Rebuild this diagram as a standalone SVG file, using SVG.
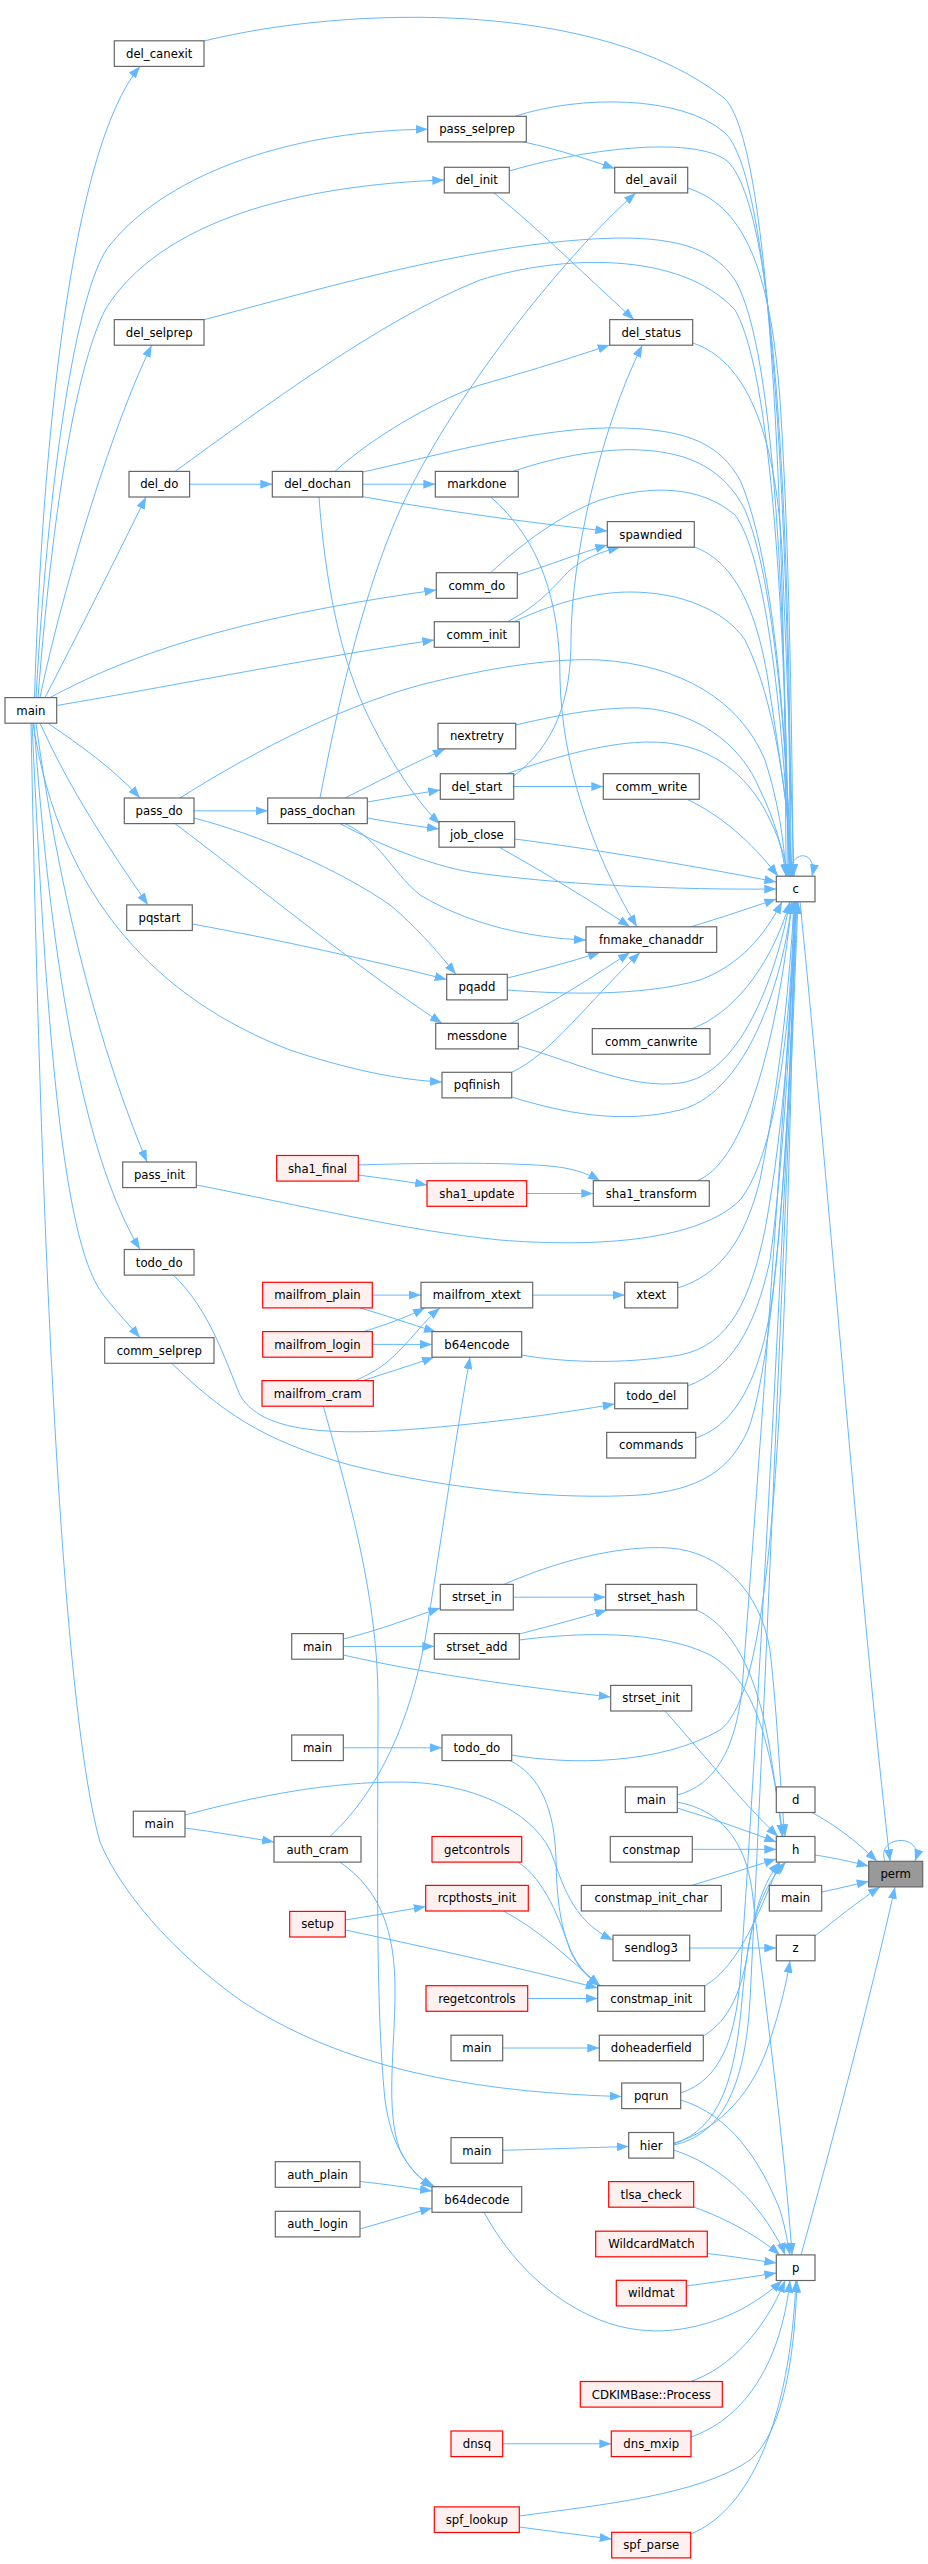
<svg xmlns="http://www.w3.org/2000/svg" width="928" height="2564" viewBox="0 0 928 2564">
<defs>
<style>
.n rect{fill:#ffffff;stroke:#666666;stroke-width:1.2}
.r rect{fill:#fff0f0;stroke:#ff0000;stroke-width:1.2}
.g rect{fill:#999999;stroke:#666666;stroke-width:1.2}
text{font-family:"DejaVu Sans","Liberation Sans",sans-serif;font-size:11.7px;text-anchor:middle;fill:#000000}
#edges path{fill:none;stroke:#63b8ff;stroke-width:1;marker-end:url(#a)}
</style>
<marker id="a" viewBox="0 0 12 9" refX="12" refY="4.5" markerWidth="12" markerHeight="9" markerUnits="userSpaceOnUse" orient="auto"><path d="M0,0 L12,4.5 L0,9 z" fill="#63b8ff"/></marker>
</defs>
<rect x="0" y="0" width="928" height="2564" fill="#ffffff"/>
<g id="edges">
<path d="M34.5,697.6 C42,450 70,150 140,66.4"/>
<path d="M36,697.6 C50,450 80,280 110,245 C170,170 300,130 427.7,129.3"/>
<path d="M38,697.6 C55,480 80,360 105,310 C160,220 300,185 444.3,180"/>
<path d="M40,697.6 C60,600 110,430 151.7,345.2"/>
<path d="M45,697.6 C80,630 115,560 146,497"/>
<path d="M50,697.6 C120,660 220,620 436.3,590"/>
<path d="M56.7,705.5 C150,690 300,660 434.3,640"/>
<path d="M48,723.3 C80,745 115,770 140,798"/>
<path d="M40,723.3 C70,790 110,850 148,904.9"/>
<path d="M33,723.3 C60,900 160,1000 290,1050 C350,1070 400,1080 442,1082"/>
<path d="M36,723.3 C60,900 100,1050 147,1162"/>
<path d="M34,723.3 C50,950 80,1150 140,1249.5"/>
<path d="M32,723.3 C45,1000 60,1230 100,1290 C110,1305 125,1320 140,1337.7"/>
<path d="M31,723.3 C40,1200 60,1700 100,1842 C120,1890 170,1950 240,2000 C330,2060 450,2092 621.7,2096.5"/>
<path d="M204,41 C350,5 600,0 724,98 C770,140 785,500 786,876.2"/>
<path d="M515,116.3 C580,95 680,95 724,132 C770,170 790,500 790,876.2"/>
<path d="M524,142 C560,150 590,160 614.7,168.5"/>
<path d="M509.3,171 C580,150 690,135 726,160 C775,200 790,500 791,876.2"/>
<path d="M494,192.9 C540,230 590,280 634,319.6"/>
<path d="M687.7,188 C740,205 770,260 780,400 C788,520 792,700 793,876.2"/>
<path d="M204,319.6 C300,295 480,240 620,238 C680,238 715,250 735,280 C770,340 785,550 788,876.2"/>
<path d="M175,471.4 C260,410 380,320 480,280 C560,255 680,250 735,310 C770,370 785,600 789,876.2"/>
<path d="M692.7,343 C745,360 775,430 782,550 C788,700 792,800 794,876.2"/>
<path d="M335,471.4 C380,430 450,395 480,385 C540,368 580,355 609.7,345"/>
<path d="M320,798 C335,720 360,600 400,510 C450,400 560,260 635.7,192.9"/>
<path d="M362.7,472 C420,460 540,425 624,428 C690,430 720,445 740,480 C775,560 788,750 790,876.2"/>
<path d="M189.6,484.2 L272.3,484.2"/>
<path d="M362.7,484.2 L435.3,484.2"/>
<path d="M513,471.4 C560,455 610,448 640,450 C690,452 725,470 745,510 C775,580 788,760 791,876.2"/>
<path d="M362.7,496.7 C420,507 520,522 607.3,531"/>
<path d="M490.7,497 C540,540 560,600 560,680 C562,760 590,850 637,926.8"/>
<path d="M694.3,547 C730,560 755,600 768,680 C780,760 790,820 792,876.2"/>
<path d="M490.7,572.7 C520,545 560,515 600,500 C650,485 700,485 735,515 C770,560 786,760 790,876.2"/>
<path d="M517.3,575 C550,565 580,553 607.3,545"/>
<path d="M507.3,621.7 C540,605 555,585 570,570 C585,558 600,552 620,547.2"/>
<path d="M514,621.7 C560,600 600,592 630,592 C680,592 725,610 745,640 C775,700 788,800 792,876.2"/>
<path d="M515.7,725 C570,712 610,707 640,708 C690,710 740,740 760,790 C775,820 783,850 786,876.2"/>
<path d="M507,773.7 C560,755 610,742 650,742 C700,742 740,765 765,810 C778,835 785,855 788,876.2"/>
<path d="M513.7,786.5 L603.3,786.5"/>
<path d="M513.7,776 C555,745 571,700 571,640 C571,560 600,430 642.3,345.2"/>
<path d="M687,799.3 C720,815 750,840 778,876.2"/>
<path d="M514.7,839 C600,850 700,867 776.3,882"/>
<path d="M499,847.2 C540,870 590,900 630,926.8"/>
<path d="M367.3,818 C390,822 415,826 439,829"/>
<path d="M367.3,802 C390,798 415,794 440.3,790"/>
<path d="M345,798 C375,783 410,765 445,749"/>
<path d="M194,810.8 L267.7,810.8"/>
<path d="M180,798 C240,760 330,710 420,685 C500,665 560,658 600,660 C680,665 740,700 765,760 C778,800 784,840 786,876.2"/>
<path d="M319,497 C325,580 340,660 370,720 C395,770 420,805 440,824"/>
<path d="M340,823.6 C380,845 430,865 470,872 C560,885 680,890 776.3,889"/>
<path d="M345,823.6 C380,840 390,870 420,895 C470,925 530,938 586,940"/>
<path d="M194,818 C260,835 340,870 390,905 C420,930 440,955 456,974.3"/>
<path d="M175,823.6 C250,880 360,970 442,1023.3"/>
<path d="M192.3,924 C280,940 370,960 446.7,979.5"/>
<path d="M690.7,926.8 C720,918 750,908 776.3,899"/>
<path d="M507.3,978 C540,970 570,962 600,952.4"/>
<path d="M507.3,990 C560,994 640,997 700,980 C740,965 765,935 782,901.8"/>
<path d="M510.7,1023.3 C550,1005 595,975 630,952.4"/>
<path d="M518.3,1046 C570,1060 630,1090 680,1083 C740,1075 775,980 790,901.8"/>
<path d="M511.7,1072.3 C550,1055 590,1000 640,952.4"/>
<path d="M511.7,1097 C560,1112 620,1125 680,1110 C740,1095 780,1000 792,901.8"/>
<path d="M692,1028.6 C730,1015 770,970 790,901.8"/>
<path d="M196.3,1185 C300,1205 400,1230 500,1240 C600,1248 700,1240 740,1200 C780,1150 792,1000 794,901.8"/>
<path d="M358.3,1175 C380,1178 405,1181 427,1185"/>
<path d="M358.3,1165 C420,1163 500,1162 550,1166 C570,1168 585,1172 600,1180.7"/>
<path d="M526.7,1193.5 L593.3,1193.5"/>
<path d="M697,1180.7 C740,1165 775,1060 792,901.8"/>
<path d="M173.3,1275.1 C210,1310 225,1360 240,1395 C265,1440 360,1435 460,1425 C530,1418 580,1410 614.7,1404"/>
<path d="M171.7,1363.3 C220,1410 260,1440 350,1465 C450,1490 560,1500 640,1495 C700,1490 730,1470 748,1430 C775,1360 792,1100 795,901.8"/>
<path d="M372.3,1295.1 L421,1295.1"/>
<path d="M360,1307.9 C385,1315 410,1324 436,1332"/>
<path d="M363.3,1331.6 C385,1325 405,1318 425,1307.9"/>
<path d="M372.3,1344.4 L432,1344.4"/>
<path d="M355,1380.6 C380,1370 390,1360 400,1350 C415,1335 425,1320 440,1307.9"/>
<path d="M363.3,1380.6 C385,1373 410,1366 434,1357.2"/>
<path d="M532.7,1295.1 L624.7,1295.1"/>
<path d="M677.7,1288 C720,1275 745,1240 760,1180 C780,1080 790,980 794,901.8"/>
<path d="M521.7,1355 C560,1362 620,1365 680,1355 C730,1345 750,1300 765,1230 C785,1120 792,1000 795,901.8"/>
<path d="M687.7,1386 C730,1370 755,1330 770,1260 C785,1150 792,1000 795,901.8"/>
<path d="M695.7,1438 C735,1425 760,1380 772,1300 C787,1180 793,1000 796,901.8"/>
<path d="M330,1836.5 C380,1790 410,1720 425,1640 C440,1550 455,1440 470,1357.2"/>
<path d="M340,1862.1 C380,1890 395,1930 395,1990 C395,2050 385,2110 400,2150 C410,2170 420,2180 435,2186.7"/>
<path d="M323.3,1406.2 C350,1500 378,1600 378,1700 C378,1850 375,2000 385,2100 C392,2150 410,2170 432,2188"/>
<path d="M343.3,1639 C380,1630 410,1618 440.3,1608"/>
<path d="M343.3,1646.4 L434.3,1646.4"/>
<path d="M343.3,1655 C400,1668 480,1682 610.7,1697"/>
<path d="M513.3,1597.2 L605.7,1597.2"/>
<path d="M504,1584.4 C560,1560 620,1545 670,1548 C720,1552 760,1590 770,1650 C778,1720 780,1790 785,1836.5"/>
<path d="M519.3,1634 C550,1626 580,1618 607,1610"/>
<path d="M519.3,1640 C580,1632 660,1630 710,1655 C755,1680 770,1740 783,1836.5"/>
<path d="M696.7,1610 C740,1630 760,1690 770,1750 C776,1790 780,1815 782,1836.5"/>
<path d="M665,1711 C700,1750 740,1800 778,1836.5"/>
<path d="M343.3,1747.8 L442,1747.8"/>
<path d="M511.7,1755 C570,1765 660,1765 720,1730 C775,1690 785,1400 795,901.8"/>
<path d="M510,1760.6 C540,1775 555,1810 556,1860 C557,1930 570,1965 600,1985.7"/>
<path d="M185,1828 C215,1832 245,1837 274,1842"/>
<path d="M185,1815 C260,1795 330,1782 400,1782 C470,1782 530,1810 550,1850 C562,1880 570,1920 613,1940"/>
<path d="M518,1862.1 C545,1880 560,1920 570,1950 C578,1968 588,1978 600,1985.7"/>
<path d="M503.3,1911 C540,1930 570,1960 600,1985.7"/>
<path d="M345.3,1920 C370,1916 400,1911 425.7,1906.5"/>
<path d="M345.3,1930 C430,1948 520,1968 597.7,1988"/>
<path d="M527.7,1998.5 L597.7,1998.5"/>
<path d="M502.7,2048 L599.3,2048"/>
<path d="M502.7,2150.3 C550,2149 590,2147.5 628.7,2146.5"/>
<path d="M360,2181.5 C385,2184 410,2188 432,2191"/>
<path d="M360,2229 C385,2222 410,2214 432,2208"/>
<path d="M502.7,2443.8 L611.3,2443.8"/>
<path d="M519.3,2527 C550,2531 580,2535 611.7,2539"/>
<path d="M519.3,2516 C600,2505 700,2495 750,2460 C785,2430 795,2350 797,2280.5"/>
<path d="M484,2212.3 C510,2260 550,2300 600,2320 C650,2340 700,2330 740,2310 C755,2302 770,2292 782,2280.5"/>
<path d="M689.7,1948 L776.3,1948"/>
<path d="M704.7,1986 C740,1965 760,1910 780,1862.1"/>
<path d="M703.3,2036 C730,2020 742,1990 748,1950 C754,1910 768,1880 786,1862.1"/>
<path d="M680.7,2093 C720,2080 735,2040 740,1980 C760,1700 790,1100 797,901.8"/>
<path d="M680.7,2100 C730,2115 760,2160 780,2210 C786,2230 788,2245 790,2254.9"/>
<path d="M673.7,2143 C720,2130 755,2090 770,2040 C780,2010 786,1985 790,1960.8"/>
<path d="M673.7,2144 C720,2128 735,2080 742,2000 C748,1930 760,1885 780,1862.1"/>
<path d="M673.7,2145 C720,2135 745,2090 750,2000 C765,1700 790,1100 798,901.8"/>
<path d="M673.7,2150 C720,2165 755,2200 775,2235 C780,2243 783,2249 785,2254.9"/>
<path d="M677.3,1795 C715,1785 735,1750 742,1690 C760,1450 785,1100 796,901.8"/>
<path d="M677.3,1808 C710,1818 745,1830 776.3,1842"/>
<path d="M677.3,1802 C720,1810 745,1840 752,1890 C765,2000 785,2150 792,2254.9"/>
<path d="M692.3,1849.3 L776.3,1849.3"/>
<path d="M691.7,1885.4 C720,1877 748,1868 776.3,1859"/>
<path d="M693.7,2207 C730,2220 760,2238 780,2254.9"/>
<path d="M707.3,2253.5 C730,2256 755,2260 776.3,2263"/>
<path d="M686.3,2286 C715,2282 745,2278 776.3,2273"/>
<path d="M690.7,2381.5 C730,2368 765,2330 785,2280.5"/>
<path d="M691,2437 C740,2420 780,2370 790,2280.5"/>
<path d="M690.7,2534 C750,2510 790,2420 796,2280.5"/>
<path d="M800,901.8 C830,1200 860,1600 890,1861.3"/>
<path d="M812,1812.5 C835,1825 855,1840 877,1861.3"/>
<path d="M815,1855 C835,1858 852,1862 868.7,1866"/>
<path d="M821.7,1892 C837,1889 852,1885 868.7,1881.5"/>
<path d="M815,1936 C835,1920 860,1900 880,1886.9"/>
<path d="M801,2254.9 C830,2150 870,2000 895,1886.9"/>
<path d="M790,876.2 C788,850 818,848 812,876.2"/>
<path d="M885,1861.3 C875,1835 925,1832 915,1861.3"/>
</g>
<g id="main_a" class="n"><rect x="5" y="697.6" width="51.7" height="25.6"/><text x="30.9" y="714.6">main</text></g>
<g id="del_canexit" class="n"><rect x="114.3" y="40.8" width="89.7" height="25.6"/><text x="159.2" y="57.8">del_canexit</text></g>
<g id="del_selprep" class="n"><rect x="114.3" y="319.6" width="89.7" height="25.6"/><text x="159.2" y="336.6">del_selprep</text></g>
<g id="del_do" class="n"><rect x="129" y="471.4" width="60.6" height="25.6"/><text x="159.3" y="488.4">del_do</text></g>
<g id="pass_do" class="n"><rect x="124.3" y="798" width="69.7" height="25.6"/><text x="159.2" y="815">pass_do</text></g>
<g id="pqstart" class="n"><rect x="126.7" y="904.9" width="65.6" height="25.6"/><text x="159.5" y="921.9">pqstart</text></g>
<g id="pass_init" class="n"><rect x="122.7" y="1162" width="73.6" height="25.6"/><text x="159.5" y="1179">pass_init</text></g>
<g id="todo_do_a" class="n"><rect x="124.3" y="1249.5" width="69.7" height="25.6"/><text x="159.2" y="1266.5">todo_do</text></g>
<g id="comm_selprep" class="n"><rect x="104.7" y="1337.7" width="109.3" height="25.6"/><text x="159.3" y="1354.7">comm_selprep</text></g>
<g id="main_b" class="n"><rect x="133.3" y="1811.2" width="51.7" height="25.6"/><text x="159.2" y="1828.2">main</text></g>
<g id="del_dochan" class="n"><rect x="272.3" y="471.4" width="90.4" height="25.6"/><text x="317.5" y="488.4">del_dochan</text></g>
<g id="pass_dochan" class="n"><rect x="267.7" y="798" width="99.6" height="25.6"/><text x="317.5" y="815">pass_dochan</text></g>
<g id="sha1_final" class="r"><rect x="276.7" y="1155.5" width="81.6" height="25.6"/><text x="317.5" y="1172.5">sha1_final</text></g>
<g id="mailfrom_plain" class="r"><rect x="262.7" y="1282.3" width="109.6" height="25.6"/><text x="317.5" y="1299.3">mailfrom_plain</text></g>
<g id="mailfrom_login" class="r"><rect x="262.7" y="1331.6" width="109.6" height="25.6"/><text x="317.5" y="1348.6">mailfrom_login</text></g>
<g id="mailfrom_cram" class="r"><rect x="262" y="1380.6" width="111.3" height="25.6"/><text x="317.6" y="1397.6">mailfrom_cram</text></g>
<g id="main_c" class="n"><rect x="291.7" y="1633.6" width="51.6" height="25.6"/><text x="317.5" y="1650.6">main</text></g>
<g id="main_d" class="n"><rect x="291.7" y="1735" width="51.6" height="25.6"/><text x="317.5" y="1752">main</text></g>
<g id="auth_cram" class="n"><rect x="274" y="1836.5" width="87" height="25.6"/><text x="317.5" y="1853.5">auth_cram</text></g>
<g id="setup" class="r"><rect x="289.7" y="1911.4" width="55.6" height="25.6"/><text x="317.5" y="1928.4">setup</text></g>
<g id="auth_plain" class="n"><rect x="275.3" y="2161.7" width="84.7" height="25.6"/><text x="317.6" y="2178.7">auth_plain</text></g>
<g id="auth_login" class="n"><rect x="275.3" y="2211.3" width="84.7" height="25.6"/><text x="317.6" y="2228.3">auth_login</text></g>
<g id="pass_selprep" class="n"><rect x="427.7" y="116.3" width="98.6" height="25.6"/><text x="477" y="133.3">pass_selprep</text></g>
<g id="del_init" class="n"><rect x="444.3" y="167.3" width="65" height="25.6"/><text x="476.8" y="184.3">del_init</text></g>
<g id="markdone" class="n"><rect x="435.3" y="471.4" width="83" height="25.6"/><text x="476.8" y="488.4">markdone</text></g>
<g id="comm_do" class="n"><rect x="436.3" y="572.7" width="81" height="25.6"/><text x="476.8" y="589.7">comm_do</text></g>
<g id="comm_init" class="n"><rect x="434.3" y="621.7" width="85" height="25.6"/><text x="476.8" y="638.7">comm_init</text></g>
<g id="nextretry" class="n"><rect x="438" y="723.3" width="77.7" height="25.6"/><text x="476.9" y="740.3">nextretry</text></g>
<g id="del_start" class="n"><rect x="440.3" y="773.7" width="73.4" height="25.6"/><text x="477" y="790.7">del_start</text></g>
<g id="job_close" class="n"><rect x="439" y="821.6" width="75.7" height="25.6"/><text x="476.9" y="838.6">job_close</text></g>
<g id="pqadd" class="n"><rect x="446.7" y="974.3" width="60.6" height="25.6"/><text x="477" y="991.3">pqadd</text></g>
<g id="messdone" class="n"><rect x="435.7" y="1023.3" width="82.6" height="25.6"/><text x="477" y="1040.3">messdone</text></g>
<g id="pqfinish" class="n"><rect x="442" y="1072.3" width="69.7" height="25.6"/><text x="476.9" y="1089.3">pqfinish</text></g>
<g id="sha1_update" class="r"><rect x="427" y="1180.7" width="99.7" height="25.6"/><text x="476.9" y="1197.7">sha1_update</text></g>
<g id="mailfrom_xtext" class="n"><rect x="421" y="1282.3" width="111.7" height="25.6"/><text x="476.9" y="1299.3">mailfrom_xtext</text></g>
<g id="b64encode" class="n"><rect x="432" y="1331.6" width="89.7" height="25.6"/><text x="476.9" y="1348.6">b64encode</text></g>
<g id="strset_in" class="n"><rect x="440.3" y="1584.4" width="73" height="25.6"/><text x="476.8" y="1601.4">strset_in</text></g>
<g id="strset_add" class="n"><rect x="434.3" y="1633.6" width="85" height="25.6"/><text x="476.8" y="1650.6">strset_add</text></g>
<g id="todo_do_b" class="n"><rect x="442" y="1735" width="69.7" height="25.6"/><text x="476.9" y="1752">todo_do</text></g>
<g id="getcontrols" class="r"><rect x="432" y="1836.5" width="89.7" height="25.6"/><text x="476.9" y="1853.5">getcontrols</text></g>
<g id="rcpthosts_init" class="r"><rect x="425.7" y="1885.4" width="102.6" height="25.6"/><text x="477" y="1902.4">rcpthosts_init</text></g>
<g id="regetcontrols" class="r"><rect x="426" y="1985.7" width="101.7" height="25.6"/><text x="476.9" y="2002.7">regetcontrols</text></g>
<g id="main_e" class="n"><rect x="451" y="2035.2" width="51.7" height="25.6"/><text x="476.9" y="2052.2">main</text></g>
<g id="main_f" class="n"><rect x="451" y="2137.6" width="51.7" height="25.6"/><text x="476.9" y="2154.6">main</text></g>
<g id="b64decode" class="n"><rect x="432" y="2186.7" width="89.7" height="25.6"/><text x="476.9" y="2203.7">b64decode</text></g>
<g id="dnsq" class="r"><rect x="451" y="2431" width="51.7" height="25.6"/><text x="476.9" y="2448">dnsq</text></g>
<g id="spf_lookup" class="r"><rect x="434.3" y="2506.9" width="85" height="25.6"/><text x="476.8" y="2523.9">spf_lookup</text></g>
<g id="del_avail" class="n"><rect x="614.7" y="167.3" width="73" height="25.6"/><text x="651.2" y="184.3">del_avail</text></g>
<g id="del_status" class="n"><rect x="609.7" y="319.6" width="83" height="25.6"/><text x="651.2" y="336.6">del_status</text></g>
<g id="spawndied" class="n"><rect x="607.3" y="521.6" width="87" height="25.6"/><text x="650.8" y="538.6">spawndied</text></g>
<g id="comm_write" class="n"><rect x="603.3" y="773.7" width="96" height="25.6"/><text x="651.3" y="790.7">comm_write</text></g>
<g id="fnmake_chanaddr" class="n"><rect x="586" y="926.8" width="130.7" height="25.6"/><text x="651.3" y="943.8">fnmake_chanaddr</text></g>
<g id="comm_canwrite" class="n"><rect x="592.3" y="1028.6" width="117.7" height="25.6"/><text x="651.2" y="1045.6">comm_canwrite</text></g>
<g id="sha1_transform" class="n"><rect x="593.3" y="1180.7" width="116" height="25.6"/><text x="651.3" y="1197.7">sha1_transform</text></g>
<g id="xtext" class="n"><rect x="624.7" y="1282.3" width="53" height="25.6"/><text x="651.2" y="1299.3">xtext</text></g>
<g id="todo_del" class="n"><rect x="614.7" y="1383.1" width="73" height="25.6"/><text x="651.2" y="1400.1">todo_del</text></g>
<g id="commands" class="n"><rect x="606.7" y="1432.4" width="89" height="25.6"/><text x="651.2" y="1449.4">commands</text></g>
<g id="strset_hash" class="n"><rect x="605.7" y="1584.4" width="91" height="25.6"/><text x="651.2" y="1601.4">strset_hash</text></g>
<g id="strset_init" class="n"><rect x="610.7" y="1685.4" width="81" height="25.6"/><text x="651.2" y="1702.4">strset_init</text></g>
<g id="main_g" class="n"><rect x="625.3" y="1786.9" width="52" height="25.6"/><text x="651.3" y="1803.9">main</text></g>
<g id="constmap" class="n"><rect x="610.3" y="1836.5" width="82" height="25.6"/><text x="651.3" y="1853.5">constmap</text></g>
<g id="constmap_init_char" class="n"><rect x="581.3" y="1885.4" width="140" height="25.6"/><text x="651.3" y="1902.4">constmap_init_char</text></g>
<g id="sendlog3" class="n"><rect x="613" y="1935.2" width="76.7" height="25.6"/><text x="651.3" y="1952.2">sendlog3</text></g>
<g id="constmap_init" class="n"><rect x="597.7" y="1985.7" width="107" height="25.6"/><text x="651.2" y="2002.7">constmap_init</text></g>
<g id="doheaderfield" class="n"><rect x="599.3" y="2035.2" width="104" height="25.6"/><text x="651.3" y="2052.2">doheaderfield</text></g>
<g id="pqrun" class="n"><rect x="621.7" y="2083" width="59" height="25.6"/><text x="651.2" y="2100">pqrun</text></g>
<g id="hier" class="n"><rect x="628.7" y="2132.5" width="45" height="25.6"/><text x="651.2" y="2149.5">hier</text></g>
<g id="tlsa_check" class="r"><rect x="608.7" y="2181.6" width="85" height="25.6"/><text x="651.2" y="2198.6">tlsa_check</text></g>
<g id="WildcardMatch" class="r"><rect x="595.7" y="2231.2" width="111.6" height="25.6"/><text x="651.5" y="2248.2">WildcardMatch</text></g>
<g id="wildmat" class="r"><rect x="616.3" y="2280.3" width="70" height="25.6"/><text x="651.3" y="2297.3">wildmat</text></g>
<g id="CDKIMBase_Process" class="r"><rect x="580.3" y="2381.5" width="142" height="25.6"/><text x="651.3" y="2398.5">CDKIMBase::Process</text></g>
<g id="dns_mxip" class="r"><rect x="611.3" y="2431" width="79.7" height="25.6"/><text x="651.2" y="2448">dns_mxip</text></g>
<g id="spf_parse" class="r"><rect x="611.7" y="2532.3" width="79" height="25.6"/><text x="651.2" y="2549.3">spf_parse</text></g>
<g id="c" class="n"><rect x="776.3" y="876.2" width="38.7" height="25.6"/><text x="795.6" y="893.2">c</text></g>
<g id="d" class="n"><rect x="776.3" y="1786.9" width="38.7" height="25.6"/><text x="795.6" y="1803.9">d</text></g>
<g id="h" class="n"><rect x="776.3" y="1836.5" width="38.7" height="25.6"/><text x="795.6" y="1853.5">h</text></g>
<g id="main_h" class="n"><rect x="769.3" y="1885.4" width="52.4" height="25.6"/><text x="795.5" y="1902.4">main</text></g>
<g id="z" class="n"><rect x="776.3" y="1935.2" width="38.7" height="25.6"/><text x="795.6" y="1952.2">z</text></g>
<g id="p" class="n"><rect x="776.3" y="2254.9" width="38.7" height="25.6"/><text x="795.6" y="2271.9">p</text></g>
<g id="perm" class="g"><rect x="868.7" y="1861.3" width="54" height="25.6"/><text x="895.7" y="1878.3">perm</text></g>
</svg>
